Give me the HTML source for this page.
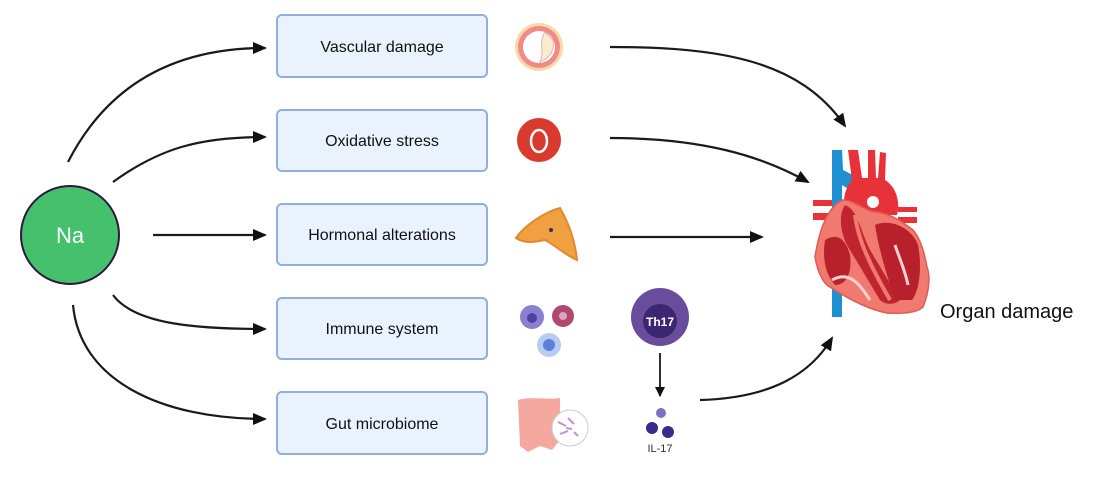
<!DOCTYPE html>
<html><head><meta charset="utf-8"><style>
html,body{margin:0;padding:0;background:#fff;}
svg{display:block;font-family:"Liberation Sans",sans-serif;}
</style></head><body>
<svg width="1114" height="477" viewBox="0 0 1114 477" xmlns="http://www.w3.org/2000/svg">
<defs>
<marker id="ah" markerWidth="14" markerHeight="12" refX="12" refY="6" orient="auto" markerUnits="userSpaceOnUse">
<path d="M0,0 L14,6 L0,12 Z" fill="#111"/></marker>
<marker id="ah2" markerWidth="10" markerHeight="10" refX="9" refY="5" orient="auto" markerUnits="userSpaceOnUse">
<path d="M0,0 L10,5 L0,10 Z" fill="#111"/></marker>
</defs>
<g fill="none" stroke="#1a1a1a" stroke-width="2.2" marker-end="url(#ah)">
<path d="M68,162 C110,80 180,48 265,48"/>
<path d="M113,182 C160,148 200,137 265,137"/>
<path d="M153,235 L265,235"/>
<path d="M113,295 C135,325 200,329 265,329"/>
<path d="M73,305 C80,380 160,419 265,419"/>
<path d="M610,47 C720,47 800,60 845,126"/>
<path d="M610,138 C700,138 760,155 808,182"/>
<path d="M610,237 L762,237"/>
<path d="M700,400 C770,398 810,375 832,338"/>
</g>
<path d="M660,353 L660,396" stroke="#1a1a1a" stroke-width="1.8" fill="none" marker-end="url(#ah2)"/>
<circle cx="70" cy="235" r="49" fill="#45c06c" stroke="#2b1a3a" stroke-width="2"/>
<text x="70" y="243" font-size="22" fill="#fff" text-anchor="middle">Na</text>
<g fill="#eaf3fd" stroke="#8fb0dc" stroke-width="2">
<rect x="277" y="15" width="210" height="62" rx="5"/>
<rect x="277" y="110" width="210" height="61" rx="5"/>
<rect x="277" y="204" width="210" height="61" rx="5"/>
<rect x="277" y="298" width="210" height="61" rx="5"/>
<rect x="277" y="392" width="210" height="62" rx="5"/>
</g>
<g font-size="16" fill="#111" text-anchor="middle">
<text x="382" y="52">Vascular damage</text>
<text x="382" y="146">Oxidative stress</text>
<text x="382" y="240">Hormonal alterations</text>
<text x="382" y="334">Immune system</text>
<text x="382" y="429">Gut microbiome</text>
</g>
<!-- vascular -->
<circle cx="539" cy="47" r="24" fill="#f7d9a8"/>
<circle cx="539" cy="47" r="21" fill="#f08a86"/>
<circle cx="539" cy="47" r="16" fill="#fff"/>
<path d="M545,32 C538,42 545,52 540,62 C550,58 555,50 553,40 Z" fill="#fbeccc" stroke="#e0b0c0"/>
<!-- O -->
<circle cx="539" cy="140" r="22" fill="#d93a2e"/>
<ellipse cx="539" cy="141" rx="8" ry="11" fill="none" stroke="#fff" stroke-width="2.5"/>
<!-- gland -->
<path d="M516,238 C525,225 545,212 560,208 C568,222 575,240 577,260 C565,255 555,245 545,240 C535,242 525,244 516,238 Z" fill="#f0a040" stroke="#e08a30" stroke-width="2"/>
<circle cx="551" cy="230" r="2" fill="#335"/>
<!-- immune cells -->
<circle cx="532" cy="317" r="12" fill="#8a80d0"/><circle cx="532" cy="318" r="5" fill="#5040a0"/>
<circle cx="563" cy="316" r="11" fill="#b04870"/><circle cx="563" cy="316" r="4" fill="#e0a0c0"/>
<circle cx="549" cy="345" r="12" fill="#b8ccf2"/><circle cx="549" cy="345" r="6" fill="#5a80d8"/>
<!-- Th17 -->
<circle cx="660" cy="317" r="29" fill="#6a4c9c"/>
<circle cx="660" cy="321" r="17" fill="#3c2670"/>
<text x="660" y="326" font-size="12" font-weight="bold" fill="#fff" text-anchor="middle">Th17</text>
<circle cx="661" cy="413" r="5" fill="#8070c0"/>
<circle cx="652" cy="428" r="6" fill="#3c2a8a"/>
<circle cx="668" cy="432" r="6" fill="#3c2a8a"/>
<text x="660" y="452" font-size="11" fill="#333" text-anchor="middle">IL-17</text>
<!-- gut -->
<path d="M518,400 C530,396 545,400 560,398 L560,440 L552,450 L540,446 L528,452 L520,446 Z" fill="#f4a8a0"/>
<circle cx="570" cy="428" r="18" fill="#fff" stroke="#ccc"/>
<path d="M558,422 l8,4 M568,418 l6,6 M560,434 l8,-3 M574,432 l4,4 M566,428 l6,1" stroke="#c090d8" stroke-width="2"/>
<!-- heart -->
<rect x="813" y="200" width="20" height="6" fill="#e8323a"/>
<rect x="813" y="213" width="20" height="7" fill="#e8323a"/>
<rect x="898" y="207" width="19" height="5" fill="#e8323a"/>
<rect x="898" y="217" width="19" height="6" fill="#e8323a"/>
<path d="M832,150 L842,150 L843,170 L855,176 L850,190 L842,185 L842,317 L832,317 Z" fill="#1e8fd0"/>
<path d="M848,150 L858,150 L862,178 L868,178 L868,150 L875,150 L876,178 L878,178 L880,152 L886,153 L885,180 C898,188 900,205 897,215 L845,215 C842,200 845,188 852,180 Z" fill="#e8323a"/>
<circle cx="873" cy="202" r="6" fill="#fff"/>
<path d="M843,200 C830,205 820,225 815,257 C818,275 825,285 830,287 C850,300 870,310 887,313 C905,314 918,312 923,307 C930,290 930,275 927,267 C924,250 920,238 913,230 C900,220 890,214 877,212 C865,212 855,200 843,200 Z" fill="#f07a70" stroke="#e05a55" stroke-width="1.5"/>
<path d="M825,240 C822,260 826,275 835,285 C848,285 852,270 850,255 C846,240 838,232 825,240 Z" fill="#b8202c"/>
<path d="M845,205 C838,215 840,235 850,250 L880,300 C885,305 895,305 900,300 L870,250 C860,230 858,210 845,205 Z" fill="#c0242e"/>
<path d="M875,225 C890,218 912,228 918,245 C922,265 920,290 912,300 L895,300 C885,270 878,245 875,225 Z" fill="#b8202c"/>
<path d="M832,280 C850,270 860,285 870,300" stroke="#f6d0cc" stroke-width="3" fill="none"/>
<path d="M895,245 C900,260 905,270 908,285" stroke="#f6d0cc" stroke-width="3" fill="none"/>
<path d="M855,215 C858,240 870,265 890,300" stroke="#f07a70" stroke-width="4" fill="none"/>
<text x="940" y="318" font-size="20" fill="#111">Organ damage</text>
</svg>
</body></html>
